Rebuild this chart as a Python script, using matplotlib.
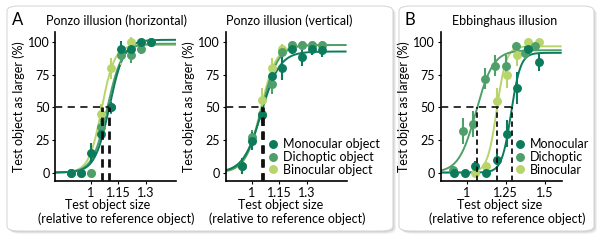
import numpy as np
import matplotlib.pyplot as plt
from matplotlib.patches import FancyBboxPatch
from matplotlib.lines import Line2D

plt.rcParams['font.family'] = ['Lato', 'DejaVu Sans']
plt.rcParams['font.size'] = 9

# colours for the three viewing conditions
c_mono = '#0b7b5c'
c_dich = '#4f9f6a'
c_bino = '#b8d56c'

# Ponzo illusion (horizontal)
hx = [0.89, 0.945, 1.0, 1.055, 1.11, 1.165, 1.22, 1.275, 1.33]
h_mono = [0, 0, 15, 30, 50, 95, 95, 100, 100]
h_mono_err = [0, 0, 8, 5, 4, 6, 5, 0, 0]
h_dich = [0, 0, 0, 35, 50, 90, 90, 95, 100]
h_dich_err = [0, 0, 0, 6, 5, 6, 6, 4, 0]
h_bino = [0, 0, 0, 45, 80, 90, 100, 100, 100]
h_bino_err = [0, 0, 0, 8, 8, 7, 4, 0, 0]

# Ponzo illusion (vertical)
vx = [0.947, 1.0, 1.055, 1.11, 1.165, 1.22, 1.275, 1.33, 1.385]
v_mono = [5, 24, 44, 74, 80, 95, 89, 95, 94]
v_mono_err = [6, 7, 6, 7, 9, 4, 7, 5, 5]
v_dich = [5, 27, 45, 68, 93, 98, 98, 98, 98]
v_dich_err = [5, 6, 6, 8, 5, 3, 3, 3, 3]
v_bino = [5, 25, 56, 80, 95, 98, 98, 98, 98]
v_bino_err = [5, 6, 9, 8, 4, 3, 3, 3, 3]

# Ebbinghaus illusion
ex = [0.92, 0.99, 1.055, 1.125, 1.195, 1.26, 1.325, 1.39, 1.46]
e_mono = [0, 0, 5, 0, 10, 30, 65, 95, 85]
e_mono_err = [0, 0, 4, 0, 4, 10, 12, 5, 7]
ex_dich = [0.913, 0.976, 1.04, 1.115, 1.18, 1.253, 1.313, 1.374, 1.44]
e_dich = [2, 32, 37, 72, 82, 82, 97, 92, 97]
e_dich_err = [3, 10, 10, 8, 8, 8, 3, 5, 3]
e_bino = [0, 0, 0, 5, 55, 75, 90, 100, 100]
e_bino_err = [0, 0, 0, 3, 10, 10, 8, 3, 3]

# fitted psychometric curves: point of subjective equality, spread, upper asymptote
h_fit = {'mono': (1.10, 0.040, 102), 'dich': (1.09, 0.040, 99), 'bino': (1.06, 0.035, 98)}
v_fit = {'mono': (1.06, 0.050, 93), 'dich': (1.055, 0.045, 98), 'bino': (1.05, 0.042, 98)}
e_fit = {'mono': (1.29, 0.030, 92), 'dich': (1.068, 0.055, 94), 'bino': (1.195, 0.030, 97)}

h_pse = [1.06, 1.10]
v_pse = [1.055, 1.062]
e_pse = [1.068, 1.195, 1.29]

W, H = 600, 243
fig = plt.figure(figsize=(W / 100, H / 100), dpi=100)
fig.patch.set_facecolor('white')


def fx(px):
    return px / W


def fy(py):
    return 1 - py / H


# rounded panel boxes with a soft shadow
for x0, x1 in [(7, 393), (399, 594)]:
    for k, a in [(3, 0.10), (2, 0.15), (1, 0.20)]:
        sh = FancyBboxPatch((fx(x0 + k), fy(231 + k)), fx(x1 - x0), (231 - 6) / H,
                            boxstyle='round,pad=0,rounding_size=0.02',
                            transform=fig.transFigure, facecolor='#888888',
                            edgecolor='none', alpha=a, zorder=0)
        fig.patches.append(sh)
    box = FancyBboxPatch((fx(x0), fy(231)), fx(x1 - x0), (231 - 6) / H,
                         boxstyle='round,pad=0,rounding_size=0.02',
                         transform=fig.transFigure, facecolor='white',
                         edgecolor='#d8d8d8', linewidth=0.8, zorder=1)
    fig.patches.append(box)


def logistic(x, pse, s, top):
    c = pse - s * np.log(50.0 / (top - 50.0))
    return top / (1 + np.exp(-(x - c) / s))


def panel(left, xlim, xs_list, ys_list, errs, fits, pses, xticks, xticklabels, vlw):
    ax = fig.add_axes([fx(left), fy(181), fx(121), (181 - 32) / H])
    ax.set_facecolor('none')
    ax.set_zorder(2)
    ax.set_xlim(xlim)
    ax.set_ylim(-6.5, 108)
    cols = [c_bino, c_dich, c_mono]
    keys = ['bino', 'dich', 'mono']
    xx = np.linspace(xlim[0], xlim[1] - 0.005, 300)
    for key, col in zip(keys, cols):
        pse, s, top = fits[key]
        ax.plot(xx, logistic(xx, pse, s, top), color=col, lw=1.4, zorder=2)
    for xs, ys, er, col in zip(xs_list, ys_list, errs, cols):
        ax.errorbar(xs, ys, yerr=er, fmt='o', color=col, ms=5.4, elinewidth=1.5,
                    capsize=0, zorder=3)
    ax.plot([xlim[0], max(pses)], [50, 50], color='#222222', lw=1.3,
            dashes=(4, 3), zorder=4)
    for p in pses:
        ax.plot([p, p], [-6.5, 50], color='#111111', lw=vlw, dashes=(3, 2), zorder=4)
    ax.set_yticks([0, 25, 50, 75, 100])
    ax.set_xticks(xticks)
    ax.set_xticklabels(xticklabels)
    for sp in ['top', 'right']:
        ax.spines[sp].set_visible(False)
    for sp in ['left', 'bottom']:
        ax.spines[sp].set_linewidth(1.2)
    ax.tick_params(axis='both', length=2, width=0.8, labelsize=9, pad=2)
    ax.set_ylabel('Test object as larger (%)', fontsize=9, labelpad=2)
    return ax


ax1 = panel(55, (0.803, 1.466), [hx, hx, hx], [h_bino, h_dich, h_mono],
            [h_bino_err, h_dich_err, h_mono_err], h_fit, h_pse,
            [1.0, 1.15, 1.3], ['1', '1.15', '1.3'], 2.0)
ax2 = panel(225.5, (0.855, 1.517), [vx, vx, vx], [v_bino, v_dich, v_mono],
            [v_bino_err, v_dich_err, v_mono_err], v_fit, v_pse,
            [1.0, 1.15, 1.3], ['1', '1.15', '1.3'], 2.0)
ax3 = panel(440.5, (0.834, 1.606), [ex, ex_dich, ex], [e_bino, e_dich, e_mono],
            [e_bino_err, e_dich_err, e_mono_err], e_fit, e_pse,
            [1.0, 1.25, 1.5], ['1', '1.25', '1.5'], 1.3)


def legend(ax, labels, anchor):
    hs = [Line2D([], [], marker='o', ls='none', color=c, ms=5.4)
          for c in [c_mono, c_dich, c_bino]]
    ax.legend(hs, labels, loc='upper left', bbox_to_anchor=anchor, frameon=False,
              handlelength=0.6, handletextpad=0.5, labelspacing=0.06,
              borderaxespad=0, fontsize=9)


legend(ax2, ['Monocular object', 'Dichoptic object', 'Binocular object'], (0.32, 0.32))
legend(ax3, ['Monocular', 'Dichoptic', 'Binocular'], (0.585, 0.32))

# titles, panel letters, x-axis labels
fig.text(fx(12), fy(20), 'A', fontsize=12, va='center', ha='left')
fig.text(fx(404), fy(20), 'B', fontsize=12, va='center', ha='left')
for cx, t in [(116, 'Ponzo illusion (horizontal)'), (289, 'Ponzo illusion (vertical)'),
              (505, 'Ebbinghaus illusion')]:
    fig.text(fx(cx), fy(21), t, fontsize=9, ha='center', va='center')
for cx1, cx2 in [(108, 116), (281, 287), (500, 507)]:
    fig.text(fx(cx1), fy(204.5), 'Test object size', fontsize=9, ha='center', va='center')
    fig.text(fx(cx2), fy(219), '(relative to reference object)', fontsize=9,
             ha='center', va='center')

fig.savefig('out.png', dpi=100)
